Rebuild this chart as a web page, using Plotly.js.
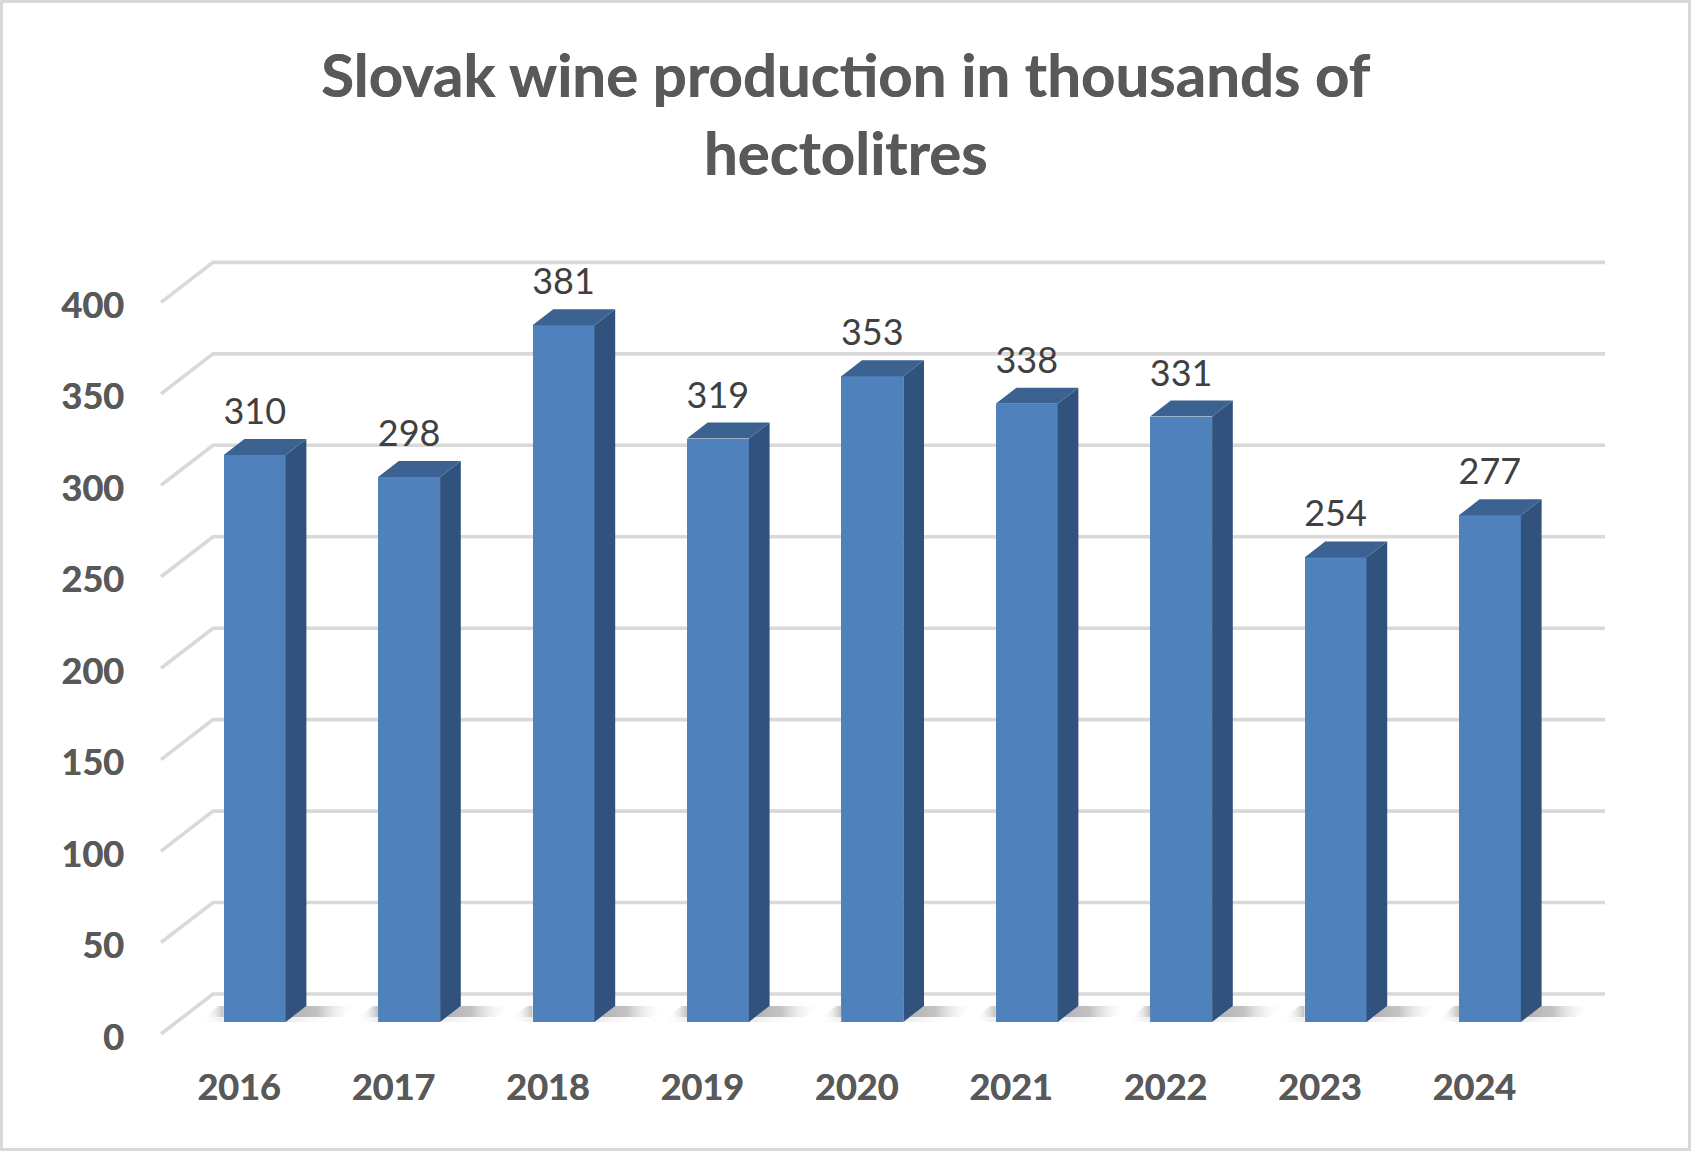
<!DOCTYPE html>
<html>
<head>
<meta charset="utf-8">
<script src="https://cdn.plot.ly/plotly-3.0.1.min.js"></script>
<style>html,body{margin:0;padding:0;background:#fff}#chart{width:1691px;height:1151px}</style>
</head>
<body>
<div id="chart"></div>
<script>
const categories = ["2016","2017","2018","2019","2020","2021","2022","2023","2024"];
const wineProduction = [310,298,381,319,353,338,331,254,277];
const valueTicks = [0,50,100,150,200,250,300,350,400];
const chartTitle = "Slovak wine production in thousands of<br>hectolitres";

const W = 1691, H = 1151;
const M = {l:130, r:71, t:250, b:111};
const pxX = 154.4, pxY = 1.829;         // pixels per data unit
const tick0Px = 239, zeroPx = 1034;     // pixel of first category tick and of value 0
const xRange = [(M.l - tick0Px)/pxX, (W - M.r - tick0Px)/pxX];
const yRange = [(zeroPx - (H - M.b))/pxY, (zeroPx - M.t)/pxY];
const dxU = px => px/pxX, dyU = px => px/pxY;

// oblique geometry
const wallDX = dxU(52), wallDY = dyU(40);
const gridStart = dxU(161 - tick0Px), gridEnd = dxU(1605 - tick0Px);
const barLeft = dxU(223.7 - 239), barW = dxU(62);
const barBase = dyU(12);
const depthX = dxU(20.7), depthY = dyU(16);
const labelGap = dyU(40);

const xs = categories.map((_, i) => i);
const gridShapes = valueTicks.map(v => ({
  type:'path', layer:'below', xref:'x', yref:'y',
  path:`M ${gridStart} ${v} L ${gridStart+wallDX} ${v+wallDY} L ${gridEnd} ${v+wallDY}`,
  line:{color:'#d9d9d9', width:3.6}
}));
const frame = {
  type:'rect', xref:'paper', yref:'paper', layer:'above',
  x0:(1.5-M.l)/(W-M.l-M.r), x1:(W-1.5-M.l)/(W-M.l-M.r),
  y0:(-(M.b-1.5))/(H-M.t-M.b),
  y1:1+(M.t-1.5)/(H-M.t-M.b),
  line:{color:'#d9d9d9', width:3}, fillcolor:'rgba(0,0,0,0)'
};

const traces = [];
const poly = (x,y,fill,extra) => Object.assign({
  type:'scatter', mode:'lines', x:x.concat(x[0]), y:y.concat(y[0]), fill:'toself',
  fillcolor:fill, line:{width:0}, hoverinfo:'skip', showlegend:false
}, extra||{});
const grad = (stops) => ({fillgradient:{type:'horizontal', colorscale:stops}});

// floor shadows
xs.forEach(i => {
  const L = i+barLeft, R = L+barW;
  const yFront = barBase, yBack = barBase+depthY, yMid = barBase+dyU(5);
  const midX = dxU(20.7*5/16);
  const rLen = dxU(50), lLen = dxU(26);
  traces.push(poly([R+midX,R+depthX,R+depthX+rLen,R+midX+rLen],[yMid,yBack,yBack,yMid],'#ccc',
    grad([[0,'rgba(170,170,170,0.9)'],[0.4,'rgba(180,180,180,0.8)'],[1,'rgba(255,255,255,0)']])));
  traces.push(poly([R,R+midX,R+midX+rLen,R+rLen],[yFront,yMid,yMid,yFront],'#eee',
    grad([[0,'rgba(232,232,232,0.9)'],[1,'rgba(255,255,255,0)']])));
  traces.push(poly([L-lLen+midX,L-lLen+depthX,L,L],[yMid,yBack,yBack,yMid],'#ccc',
    grad([[0,'rgba(255,255,255,0)'],[1,'rgba(180,180,180,0.85)']])));
  traces.push(poly([L-lLen,L-lLen+midX,L,L],[yFront,yMid,yMid,yFront],'#eee',
    grad([[0,'rgba(255,255,255,0)'],[1,'rgba(235,235,235,0.9)']])));
});

// front faces
traces.push({
  type:'bar', x:xs.map(i => i+barLeft+barW/2), y:wineProduction, base:barBase, width:barW,
  marker:{color:'#4f81bd', line:{width:0}}, showlegend:false, name:'Wine production',
  text:categories, hovertemplate:'%{text}: %{y}<extra></extra>', textposition:'none'
});
// side and top faces
xs.forEach(i => {
  const R = i+barLeft+barW, L = i+barLeft, top = wineProduction[i]+barBase;
  traces.push(poly([R,R+depthX,R+depthX,R],[barBase,barBase+depthY,top+depthY,top],'#31527c'));
  traces.push(poly([L,L+depthX,R+depthX,R],[top,top+depthY,top+depthY,top],'#3b6290'));
});
// value labels
traces.push({
  type:'scatter', mode:'text', x:xs.map(i => i+barLeft+barW/2),
  y:wineProduction.map(v => v+barBase+labelGap), text:wineProduction.map(String),
  textposition:'middle center', textfont:{family:'Lato, Carlito, sans-serif', size:36, color:'#404040'},
  hoverinfo:'skip', showlegend:false
});

const boldFont = size => ({family:'Lato, Carlito, sans-serif', size:size, color:'#595959', weight:700, shadow:'0.5px 0 0 #595959'});
const layout = {
  width:W, height:H, margin:M, paper_bgcolor:'#ffffff', plot_bgcolor:'rgba(0,0,0,0)', showlegend:false,
  title:{text:chartTitle, x:845.5/W, xref:'container', xanchor:'center', y:1-97/H, yref:'container', yanchor:'top',
    font:boldFont(60)},
  xaxis:{range:xRange, tickmode:'array', tickvals:xs, ticktext:categories, showgrid:false, zeroline:false,
    showline:false, ticks:'', ticklabelstandoff:23, tickfont:boldFont(36)},
  yaxis:{range:yRange, tickmode:'array', tickvals:valueTicks, ticktext:valueTicks.map(String), showgrid:false, zeroline:false,
    showline:false, ticks:'', ticklabelstandoff:5, ticklabelshift:3, tickfont:boldFont(36)},
  shapes:gridShapes.concat([frame]),
  bargap:0
};
Plotly.newPlot('chart', traces, layout, {displayModeBar:false, responsive:false});
</script>
</body>
</html>
